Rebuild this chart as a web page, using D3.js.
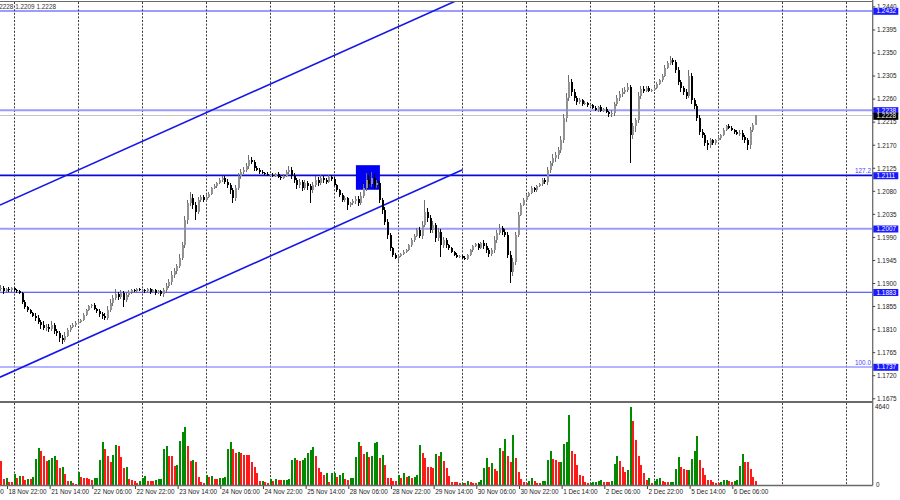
<!DOCTYPE html>
<html><head><meta charset="utf-8">
<script src="https://cdn.jsdelivr.net/npm/d3@7"></script>
<style>body{margin:0;background:#fff}svg{display:block}text{font-family:"Liberation Sans",Arial,sans-serif}</style>
</head><body><svg id="c" width="900" height="500"></svg>
<script>
// ---------- DATA ----------
const sessionDays = ["18 Nov","21 Nov","22 Nov","23 Nov","24 Nov","25 Nov","28 Nov","29 Nov","30 Nov","1 Dec","2 Dec","5 Dec","6 Dec","7 Dec","8 Dec"];
const firstHour = 19; // first visible bar: 18 Nov 19:00 (H1)
const firstOpen = 1.1889;
const close = [
1.1891,1.1885,1.1889,1.1887,1.1891,
1.1887,1.1885,1.1881,1.1864,1.1854,1.1848,1.1842,1.1837,1.1833,1.1825,1.1819,1.1813,1.1815,1.1811,1.1819,1.1807,1.1803,1.1794,1.1790,1.1798,1.1809,1.1815,1.1819,1.1823,
1.1825,1.1829,1.1839,1.1848,1.1856,1.1858,1.1850,1.1846,1.1840,1.1837,1.1833,1.1848,1.1862,1.1872,1.1879,1.1874,1.1881,1.1868,1.1878,1.1883,1.1887,1.1885,1.1889,1.1887,
1.1887,1.1885,1.1889,1.1883,1.1887,1.1881,1.1885,1.1879,1.1887,1.1895,1.1903,1.1917,1.1924,1.1934,1.1950,1.1975,1.2024,1.2057,1.2067,1.2053,1.2040,1.2063,1.2069,1.2063,
1.2069,1.2075,1.2086,1.2090,1.2096,1.2102,1.2106,1.2098,1.2092,1.2082,1.2067,1.2086,1.2110,1.2118,1.2122,1.2129,1.2141,1.2137,1.2125,1.2122,1.2118,1.2116,1.2114,1.2112,
1.2112,1.2110,1.2114,1.2108,1.2106,1.2110,1.2118,1.2122,1.2110,1.2102,1.2092,1.2098,1.2086,1.2096,1.2090,1.2082,1.2092,1.2102,1.2096,1.2106,1.2102,1.2098,1.2108,1.2104,
1.2092,1.2082,1.2073,1.2063,1.2067,1.2053,1.2057,1.2061,1.2065,1.2057,1.2071,1.2086,1.2102,1.2094,1.2106,1.2092,1.2096,1.2063,1.2043,1.2020,1.1995,1.1969,1.1956,1.1950,
1.1954,1.1958,1.1962,1.1965,1.1975,1.1985,1.1993,1.2004,1.1993,1.2014,1.2040,1.2028,1.2004,1.2014,1.1989,1.2001,1.1975,1.1985,1.1975,1.1969,1.1962,1.1956,1.1952,1.1954,
1.1950,1.1948,1.1956,1.1965,1.1973,1.1977,1.1969,1.1979,1.1973,1.1965,1.1958,1.1965,1.1985,1.1999,1.2008,1.2001,1.1995,1.1956,1.1922,1.1942,1.1995,1.2034,1.2053,1.2063,
1.2071,1.2077,1.2086,1.2082,1.2090,1.2094,1.2102,1.2098,1.2122,1.2135,1.2145,1.2151,1.2161,1.2180,1.2223,1.2262,1.2293,1.2274,1.2262,1.2254,1.2258,1.2250,1.2252,1.2248,
1.2248,1.2243,1.2239,1.2245,1.2237,1.2241,1.2235,1.2231,1.2233,1.2250,1.2262,1.2270,1.2274,1.2278,1.2284,1.2190,1.2207,1.2219,1.2266,1.2280,1.2276,1.2282,1.2276,1.2278,
1.2282,1.2289,1.2297,1.2305,1.2321,1.2330,1.2336,1.2332,1.2317,1.2293,1.2282,1.2274,1.2266,1.2305,1.2258,1.2247,1.2223,1.2196,1.2190,1.2174,1.2170,1.2180,1.2174,1.2180,
1.2184,1.2190,1.2200,1.2207,1.2204,1.2200,1.2196,1.2192,1.2194,1.2186,1.2180,1.2170,1.2200,1.2210,1.2228
];
// wick extensions beyond the body, in pips
const wickUp = [
6,4,3,4,3,
3,2,3,2,3,2,3,2,5,6,4,7,5,6,8,4,5,4,6,7,5,4,3,3,
3,2,4,3,3,2,3,2,5,4,6,8,7,6,10,5,6,4,5,4,3,3,2,3,
3,2,3,2,3,2,3,2,5,6,5,7,6,5,8,6,7,6,12,8,6,5,4,3,
3,4,3,4,2,3,4,3,6,5,4,7,6,5,6,7,10,6,4,5,3,3,2,3,
2,3,2,3,2,3,4,7,5,6,4,6,5,7,5,4,6,7,5,6,4,3,4,3,
3,2,3,4,3,2,3,4,6,5,7,8,14,10,12,8,6,5,4,6,5,4,3,3,
3,2,3,2,3,4,3,5,6,8,23,7,6,8,5,7,6,5,4,3,3,2,3,2,
2,3,2,3,2,3,2,3,5,6,4,5,7,6,8,5,6,5,7,8,6,5,4,3,
3,2,4,3,2,3,4,3,6,5,7,6,5,7,8,9,14,6,5,4,5,3,4,3,
3,2,3,2,3,2,3,2,6,5,6,5,7,6,8,4,6,5,7,6,5,4,3,2,
3,4,3,4,5,4,8,5,4,6,5,4,5,12,6,5,4,6,5,4,6,5,3,3,
3,2,3,2,4,3,2,3,5,6,4,5,6,4,0
];
const wickDn = [
4,5,3,3,4,
2,3,2,4,3,3,2,3,6,5,7,4,6,5,4,6,5,8,8,4,3,4,2,3,
2,3,2,3,2,3,2,3,5,6,4,5,4,6,5,7,4,14,5,4,3,2,3,2,
2,3,2,3,2,3,2,3,6,5,4,5,6,5,4,5,6,8,6,7,16,5,4,3,
3,2,3,2,3,2,3,4,6,7,10,5,4,6,5,4,5,4,6,3,4,2,3,2,
3,2,3,2,3,2,3,4,6,5,7,5,6,4,7,25,5,4,6,4,5,3,2,3,
2,3,4,3,4,10,3,4,5,6,4,5,6,8,5,7,6,5,7,6,8,5,4,3,
8,3,2,3,2,3,4,3,5,6,4,7,5,6,8,6,23,5,6,4,3,3,2,3,
3,2,3,2,3,2,3,2,6,5,7,4,5,6,5,6,5,7,21,8,5,4,3,2,
2,3,2,3,4,2,3,4,5,6,5,7,8,6,5,7,6,8,6,5,4,3,2,3,
2,3,2,4,3,2,3,6,5,6,4,5,6,5,4,55,8,12,6,5,4,3,2,3,
2,3,2,3,2,3,4,5,6,5,8,6,5,4,7,6,5,6,5,6,9,5,4,3,
2,3,2,3,2,3,4,3,5,6,5,9,7,5,1
];
const volume = [
1400,340,440,200,160,
660,440,540,540,300,380,380,500,1540,2200,2000,1700,1400,1500,1600,1700,1500,1000,1100,660,240,260,100,60,
780,500,440,400,340,300,400,440,1500,2540,2140,1740,1340,1800,2400,2340,1660,1000,1060,340,300,220,140,240,
400,540,240,240,240,300,340,380,2140,2300,1740,1700,1140,1200,2620,3160,3460,2300,1400,1460,1340,500,180,100,
580,460,560,380,380,420,440,460,2140,2580,2140,1900,1980,1900,1800,1790,1780,1340,1100,740,240,260,200,100,
380,240,340,300,300,310,320,340,1460,1600,1500,1400,1500,1600,1900,2100,2260,1740,1000,800,600,700,200,700,
740,460,600,740,340,300,400,440,1660,2540,2300,1860,1940,1660,1740,2500,2580,1600,1800,1200,400,400,260,240,
600,440,700,460,540,400,500,600,2400,1900,1600,1100,1100,1000,1860,1740,1940,1400,1000,540,200,160,160,120,
140,140,240,160,100,100,200,300,1000,1600,1100,1300,940,860,2200,2000,2740,1700,1340,3000,1600,760,360,200,
140,260,400,220,140,140,240,260,1500,2040,1540,1500,1360,1380,2440,2540,4140,2000,1860,1200,600,540,200,100,
140,160,200,240,300,200,160,160,260,1240,1740,1400,1100,800,900,4640,3800,2700,1700,1200,700,300,400,140,
240,340,400,240,180,160,180,190,960,1640,1100,960,900,920,1540,2000,2940,1500,1000,600,300,300,200,100,
100,160,280,300,260,200,260,300,1140,1840,1380,1370,980,500,240
];
const priceTicks = [1.2440,1.2395,1.2350,1.2305,1.2260,1.2215,1.2170,1.2125,1.2080,1.2035,1.1990,1.1945,1.1900,1.1855,1.1810,1.1765,1.1720,1.1675];
const timeTicks = ["18 Nov 06:00","18 Nov 22:00","21 Nov 14:00","22 Nov 06:00","22 Nov 22:00","23 Nov 14:00","24 Nov 06:00","24 Nov 22:00","25 Nov 14:00","28 Nov 06:00","28 Nov 22:00","29 Nov 14:00","30 Nov 06:00","30 Nov 22:00","1 Dec 14:00","2 Dec 06:00","2 Dec 22:00","5 Dec 14:00","6 Dec 06:00"];
const volumeTicks = [4640, 0];
const levels = [1.2432, 1.2238, 1.2111, 1.2007, 1.1883, 1.1737];
const fibLabels = ["127.2", "100.0"];
const fibLevels = [1.2111, 1.1737];
const lastPrice = 1.2228;
const headerText = "EURUSD,H1  1.2213 1.2228 1.2209 1.2228";
// channel lines: [bar index, price]
const channelUpper = [[-0.36, 1.2053], [175, 1.2462]];
const channelLower = [[-0.36, 1.1717], [173.1, 1.2122]];
// highlighted zone: bar range and price range
const zoneBars = [133.1, 142.1];
const zonePrices = [1.2131, 1.2083];

// ---------- LAYOUT ----------
const svg = d3.select("#c");
const plotR = 872.7;
const mainTop = 2, mainBot = 401, volTop = 403, volBot = 485.5;
const slots = [];
sessionDays.forEach(d => { for (let h = 0; h < 24; h++) slots.push(d + " " + String(h).padStart(2, "0") + ":00"); });
const x = d3.scaleLinear().domain([0, 327]).range([0.97, 0.97 + 327 * 2.6667]);
const y = d3.scaleLinear().domain([1.1737, 1.2432]).range([367, 11]);
const vy = d3.scaleLinear().domain([0, 4640]).range([485, 407]);

const defs = svg.append("defs");
defs.append("clipPath").attr("id", "cm").append("rect").attr("x", 0).attr("y", mainTop).attr("width", plotR).attr("height", mainBot - mainTop);
defs.append("clipPath").attr("id", "cv").append("rect").attr("x", 0).attr("y", volTop).attr("width", plotR).attr("height", volBot - volTop);

const gm = svg.append("g").attr("clip-path", "url(#cm)");
const gv = svg.append("g").attr("clip-path", "url(#cv)");

// day separators (dashed)
const dayStarts = d3.range(1, sessionDays.length).map(i => i * 24 - firstHour);
[[gm, mainTop, mainBot], [gv, volTop, volBot]].forEach(([g, t, b]) => {
  g.selectAll(null).data(dayStarts).enter().append("line")
    .attr("x1", d => Math.round(x(d)) + 0.5).attr("x2", d => Math.round(x(d)) + 0.5)
    .attr("y1", t).attr("y2", b).attr("stroke", "#3a3a3a").attr("stroke-width", 1)
    .attr("stroke-dasharray", "2,1.6");
});

// current price line
gm.append("line").attr("x1", 0).attr("x2", plotR).attr("y1", Math.round(y(lastPrice)) + 0.5).attr("y2", Math.round(y(lastPrice)) + 0.5)
  .attr("stroke", "#c4c4c4").attr("stroke-width", 1);

// horizontal levels
const levelStyle = [
  {c: "#3b3bff", w: 1.2}, {c: "#9b9bff", w: 2}, {c: "#0a0ad2", w: 1.7},
  {c: "#9b9bff", w: 2}, {c: "#3535ff", w: 1.1}, {c: "#9b9bff", w: 1.6}
];
gm.selectAll(null).data(levels).enter().append("line")
  .attr("x1", 0).attr("x2", plotR).attr("y1", d => y(d)).attr("y2", d => y(d))
  .attr("stroke", (d, i) => levelStyle[i].c).attr("stroke-width", (d, i) => levelStyle[i].w);

// fib labels
svg.selectAll(null).data(fibLabels).enter().append("text")
  .attr("x", 871).attr("y", (d, i) => y(fibLevels[i]) - 2.5).attr("text-anchor", "end")
  .attr("font-size", 6.4).attr("fill", "#4646ff").text(d => d);

// zone box
gm.append("rect").attr("x", x(zoneBars[0])).attr("width", x(zoneBars[1]) - x(zoneBars[0]))
  .attr("y", y(zonePrices[0])).attr("height", y(zonePrices[1]) - y(zonePrices[0])).attr("fill", "#0000f4");

// channel
const line = d3.line().x(d => x(d[0])).y(d => y(d[1]));
[channelUpper, channelLower].forEach(pts => {
  gm.append("path").attr("d", line(pts)).attr("fill", "none").attr("stroke", "#1616e8").attr("stroke-width", 1.6);
});

// candles
const bars = close.map((c, i) => {
  const o = i ? close[i - 1] : firstOpen;
  return {i, o, c, hi: Math.max(o, c) + wickUp[i] / 1e4, lo: Math.min(o, c) - wickDn[i] / 1e4};
});
const bullCol = "#929292", bearCol = "#000";
const cg = gm.append("g").attr("shape-rendering", "crispEdges");
bars.forEach(b => {
  const cx = Math.floor(x(b.i));
  const col = b.c >= b.o ? bullCol : bearCol;
  cg.append("line").attr("x1", cx + 0.5).attr("x2", cx + 0.5).attr("y1", y(b.hi)).attr("y2", y(b.lo)).attr("stroke", b.c >= b.o ? "#6e6e6e" : bearCol);
  const t = y(Math.max(b.o, b.c)), bt = y(Math.min(b.o, b.c));
  cg.append("rect").attr("x", cx).attr("width", 2).attr("y", t).attr("height", Math.max(1, bt - t)).attr("fill", col);
});

// volumes
gv.append("g").attr("shape-rendering", "crispEdges").selectAll("rect").data(volume).enter().append("rect")
  .attr("x", (d, i) => Math.floor(x(i))).attr("width", 2)
  .attr("y", d => vy(d)).attr("height", d => 485 - vy(d))
  .attr("fill", (d, i) => (i > 0 && d > volume[i - 1]) ? "#008a00" : "#ff1a1a");

// frames
const fr = svg.append("g").attr("fill", "none").attr("stroke", "#6a6a6a");
fr.append("line").attr("x1", 0).attr("x2", plotR).attr("y1", 1.5).attr("y2", 1.5).attr("stroke-width", 1.2);
fr.append("line").attr("x1", 0).attr("x2", plotR).attr("y1", 402).attr("y2", 402).attr("stroke-width", 1.8);
fr.append("line").attr("x1", 0).attr("x2", plotR).attr("y1", volBot).attr("y2", volBot).attr("stroke-width", 1.3);
fr.append("line").attr("x1", plotR).attr("x2", plotR).attr("y1", 0).attr("y2", volBot).attr("stroke-width", 1.3);

// price axis ticks
const ax = svg.append("g").attr("font-size", 6.4).attr("fill", "#222");
priceTicks.forEach(p => {
  ax.append("line").attr("x1", plotR).attr("x2", plotR + 2.5).attr("y1", y(p)).attr("y2", y(p)).attr("stroke", "#444");
  ax.append("text").attr("x", 877).attr("y", y(p) + 2.3).text(p.toFixed(4));
});
// level boxes
levels.forEach(p => {
  svg.append("rect").attr("x", 873.3).attr("y", y(p) - 3.2).attr("width", 25).attr("height", 7).attr("fill", "#1a1aff");
  svg.append("text").attr("x", 876.5).attr("y", y(p) + 2.3).attr("font-size", 6.4).attr("fill", "#fff").text(p.toFixed(4));
});
svg.append("rect").attr("x", 873.3).attr("y", y(lastPrice) - 2.7).attr("width", 25).attr("height", 7).attr("fill", "#000");
svg.append("text").attr("x", 876.5).attr("y", y(lastPrice) + 2.8).attr("font-size", 6.4).attr("fill", "#fff").text(lastPrice.toFixed(4));

// volume axis
volumeTicks.forEach(v => {
  svg.append("text").attr("x", v ? 875 : 876).attr("y", vy(v) + 2.3).attr("font-size", 6.4).attr("fill", "#222").text(v);
});

// time axis
const tg = svg.append("g").attr("font-size", 6.4).attr("fill", "#222");
timeTicks.forEach(lbl => {
  const j = slots.indexOf(lbl) - firstHour;
  const px = x(j);
  tg.append("line").attr("x1", px - 1.5).attr("x2", px - 1.5).attr("y1", 486).attr("y2", 489).attr("stroke", "#444");
  tg.append("text").attr("x", px - 0.5).attr("y", 494.3).text(lbl);
});

// header
svg.append("text").attr("x", 56).attr("y", 8.6).attr("text-anchor", "end").attr("font-size", 6.4).attr("fill", "#333").text(headerText);
</script></body></html>
